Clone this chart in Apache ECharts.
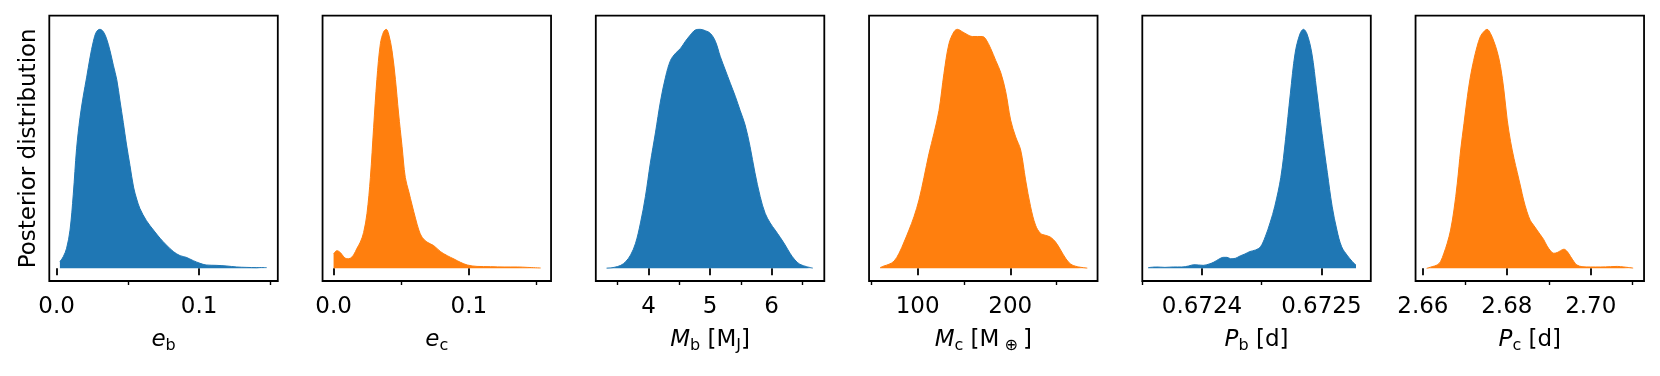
<!DOCTYPE html>
<html>
<head>
<meta charset="utf-8">
<script src="https://cdn.jsdelivr.net/npm/echarts@6/dist/echarts.min.js"></script>
<style>
html, body { margin: 0; padding: 0; background: #fff; }
#chart { width: 1660px; height: 376px; }
</style>
</head>
<body>
<div id="chart"></div>
<script>
// posterior densities (peak scaled to 1)
var ebX = [0.0023,0.0047,0.007,0.0094,0.0117,0.014,0.0164,0.0187,0.0211,0.0234,0.0258,0.028,0.0304,0.0328,0.0351,0.0375,0.0398,0.0422,0.0445,0.0468,0.049,0.0515,0.054,0.0562,0.0585,0.063,0.068,0.0726,0.077,0.082,0.0867,0.091,0.096,0.1007,0.105,0.112,0.119,0.1265,0.133,0.1405,0.1475];
var ebY = [0.028,0.049,0.084,0.16,0.31,0.50,0.63,0.72,0.80,0.88,0.95,0.99,1.0,0.99,0.96,0.91,0.85,0.79,0.70,0.61,0.52,0.43,0.34,0.29,0.25,0.20,0.16,0.126,0.098,0.07,0.053,0.046,0.032,0.021,0.014,0.0125,0.01,0.0056,0.004,0.003,0.003];

var ecX = [0,0.0025,0.005,0.0074,0.0099,0.0123,0.0148,0.0173,0.0198,0.0222,0.0247,0.0272,0.0296,0.032,0.0346,0.037,0.0389,0.0407,0.0432,0.0457,0.048,0.0506,0.053,0.0556,0.058,0.0605,0.063,0.0654,0.069,0.074,0.079,0.084,0.089,0.0938,0.0988,0.106,0.116,0.126,0.136,0.143,0.153];
var ecY = [0.06,0.074,0.066,0.049,0.040,0.042,0.056,0.084,0.11,0.15,0.23,0.38,0.59,0.79,0.94,0.99,1.0,0.98,0.91,0.79,0.65,0.51,0.38,0.32,0.265,0.21,0.16,0.13,0.11,0.095,0.07,0.053,0.039,0.025,0.014,0.008,0.007,0.0056,0.0056,0.004,0.0014];

var mbX = [3.32,3.44,3.55,3.63,3.71,3.79,3.87,3.95,4.03,4.115,4.196,4.277,4.358,4.44,4.52,4.6,4.68,4.76,4.84,4.925,5.006,5.087,5.167,5.248,5.33,5.41,5.49,5.57,5.65,5.73,5.815,5.896,5.977,6.058,6.139,6.22,6.3,6.38,6.46,6.57,6.67];
var mbY = [0.001,0.004,0.0125,0.028,0.056,0.105,0.19,0.30,0.44,0.57,0.70,0.80,0.87,0.90,0.92,0.95,0.976,0.997,1.0,0.994,0.983,0.95,0.886,0.83,0.774,0.72,0.66,0.60,0.51,0.40,0.30,0.23,0.19,0.16,0.13,0.098,0.063,0.035,0.017,0.007,0.001];

var mcX = [59.4,63.7,69,74.5,79.9,85.3,90.6,96,101.4,106.8,112.2,117.6,123,128.4,133.8,139.2,142.8,148.2,153.6,159,164.4,169.8,173.4,178.8,184.2,189.6,195,200.4,205.8,211.2,216.5,221.9,227.3,232.7,238.1,243.5,248.9,254.3,259.7,265.1,272.3,283.1];
var mcY = [0.003,0.01,0.017,0.03,0.063,0.11,0.16,0.216,0.286,0.38,0.48,0.565,0.66,0.816,0.94,0.99,1.0,0.99,0.978,0.97,0.97,0.97,0.96,0.92,0.87,0.82,0.74,0.62,0.55,0.495,0.37,0.258,0.18,0.146,0.138,0.13,0.11,0.077,0.042,0.018,0.007,0.001];

var pbX = [0.672355,0.672362,0.672369,0.672376,0.672383,0.672389,0.672393,0.672397,0.672401,0.672406,0.67241,0.672414,0.672418,0.672421,0.672424,0.672428,0.672432,0.672436,0.67244,0.672445,0.672449,0.672453,0.672457,0.672461,0.672466,0.67247,0.672474,0.672478,0.672482,0.672485,0.672488,0.672492,0.672496,0.6725005,0.672505,0.672509,0.672513,0.672517,0.672522,0.672526,0.672529];
var pbY = [0.003,0.0056,0.004,0.0056,0.0056,0.01,0.015,0.014,0.0125,0.018,0.026,0.038,0.046,0.046,0.04,0.042,0.052,0.06,0.07,0.077,0.09,0.132,0.19,0.26,0.38,0.54,0.73,0.90,0.98,1.0,0.98,0.90,0.746,0.565,0.40,0.26,0.16,0.09,0.052,0.028,0.014];

var pcX = [2.6609,2.6622,2.6634,2.6642,2.665,2.6658,2.6666,2.6674,2.6682,2.669,2.6698,2.6706,2.6713,2.6721,2.6729,2.6737,2.6745,2.6753,2.6761,2.6769,2.6777,2.6785,2.6793,2.6801,2.6809,2.6817,2.6825,2.6833,2.684,2.6848,2.6856,2.6864,2.6872,2.688,2.6888,2.6896,2.6904,2.6912,2.692,2.6928,2.6936,2.6944,2.6952,2.696,2.6967,2.6979,2.6999,2.7023,2.7047,2.7063,2.7079,2.7101];
var pcY = [0.0,0.007,0.014,0.028,0.063,0.105,0.16,0.244,0.356,0.495,0.607,0.718,0.80,0.87,0.927,0.97,0.99,1.0,0.983,0.95,0.907,0.844,0.746,0.62,0.53,0.46,0.40,0.34,0.286,0.237,0.20,0.18,0.16,0.14,0.12,0.093,0.074,0.063,0.066,0.074,0.08,0.07,0.049,0.028,0.014,0.007,0.0056,0.0056,0.007,0.008,0.0056,0.001];

// tick positions
var ebTicks = [0.0, 0.1],          ebMinor = [0.05, 0.15];
var ecTicks = [0.0, 0.1],          ecMinor = [0.05, 0.15];
var mbTicks = [4, 5, 6],           mbMinor = [3.5, 4.5, 5.5, 6.5];
var mcTicks = [100, 200],          mcMinor = [50, 150, 250];
var pbTicks = [0.6724, 0.6725],    pbMinor = [0.67235, 0.67245];
var pcTicks = [2.66, 2.68, 2.70],  pcMinor = [2.67, 2.69, 2.71];

var blue = '#1f77b4', orange = '#ff7f0e';
var FONT = 'DejaVu Sans';

var panels = [
    {x: ebX, y: ebY, ticks: ebTicks, minor: ebMinor, color: blue,   min: -0.00515, max: 0.1553,    digits: 1, name: '{it|e}{sub|b}'},
    {x: ecX, y: ecY, ticks: ecTicks, minor: ecMinor, color: orange, min: -0.00815, max: 0.1607,    digits: 1, name: '{it|e}{sub|c}'},
    {x: mbX, y: mbY, ticks: mbTicks, minor: mbMinor, color: blue,   min: 3.144,    max: 6.857,     digits: 0, name: '{it|M}{sub|b}{t| [M}{sub|J}{t|]}'},
    {x: mcX, y: mcY, ticks: mcTicks, minor: mcMinor, color: orange, min: 47.5,     max: 294.2,     digits: 0, name: '{it|M}{sub|c}{t| [M}{sub| ⊕ }{t|]}'},
    {x: pbX, y: pbY, ticks: pbTicks, minor: pbMinor, color: blue,   min: 0.67235,  max: 0.6725414, digits: 4, name: '{it|P}{sub|b}{t| [d]}'},
    {x: pcX, y: pcY, ticks: pcTicks, minor: pcMinor, color: orange, min: 2.65825,  max: 2.7127,    digits: 2, name: '{it|P}{sub|c}{t| [d]}'}
];

var myChart = echarts.init(document.getElementById('chart'));

var grids = [], xAxes = [], yAxes = [], series = [];
panels.forEach(function (p, i) {
    grids.push({
        left: 49.3 + i * 273.25, top: 15.7, width: 228.5, height: 265.3,
        show: true, borderColor: '#000', borderWidth: 1.8, backgroundColor: 'transparent'
    });
    // major ticks + labels + axis title
    xAxes.push({
        type: 'value', gridIndex: i, position: 'bottom', min: p.min, max: p.max,
        axisLine: {show: false},
        splitLine: {show: false},
        axisTick: {show: true, customValues: p.ticks, length: 7, lineStyle: {color: '#000', width: 1.8}},
        axisLabel: {
            customValues: p.ticks, margin: 15, fontSize: 23, color: '#000', fontFamily: FONT,
            formatter: (function (d) { return function (v) { return Number(v).toFixed(d); }; })(p.digits)
        },
        name: p.name, nameLocation: 'middle', nameGap: 45,
        nameTextStyle: {
            color: '#000', fontFamily: FONT, fontSize: 23,
            rich: {
                it: {fontSize: 23, fontStyle: 'italic', fontFamily: FONT, color: '#000', lineHeight: 28},
                t: {fontSize: 23, fontFamily: FONT, color: '#000', lineHeight: 28},
                sub: {fontSize: 16, fontFamily: FONT, color: '#000', lineHeight: 17, verticalAlign: 'bottom'}
            }
        }
    });
    // minor ticks
    xAxes.push({
        type: 'value', gridIndex: i, position: 'bottom', min: p.min, max: p.max,
        axisLine: {show: false},
        splitLine: {show: false},
        axisTick: {show: true, customValues: p.minor, length: 4, lineStyle: {color: '#000', width: 1.4}},
        axisLabel: {show: false}
    });
    yAxes.push({
        type: 'value', gridIndex: i, min: -0.053, max: 1.057,
        axisLine: {show: false}, axisTick: {show: false}, axisLabel: {show: false}, splitLine: {show: false},
        name: i === 0 ? 'Posterior distribution' : '',
        nameLocation: 'middle', nameGap: 9,
        nameTextStyle: {color: '#000', fontFamily: FONT, fontSize: 23}
    });
    var pts = p.x.map(function (v, k) { return [v, p.y[k]]; });
    series.push({
        type: 'line', xAxisIndex: 2 * i, yAxisIndex: i, data: pts,
        symbol: 'none', smooth: 0.35, silent: true,
        lineStyle: {color: p.color, width: 1},
        areaStyle: {color: p.color, opacity: 1, origin: 0},
        itemStyle: {color: p.color}
    });
});

var option = {
    backgroundColor: '#fff',
    animation: false,
    grid: grids,
    xAxis: xAxes,
    yAxis: yAxes,
    series: series
};
myChart.setOption(option);
</script>
</body>
</html>
